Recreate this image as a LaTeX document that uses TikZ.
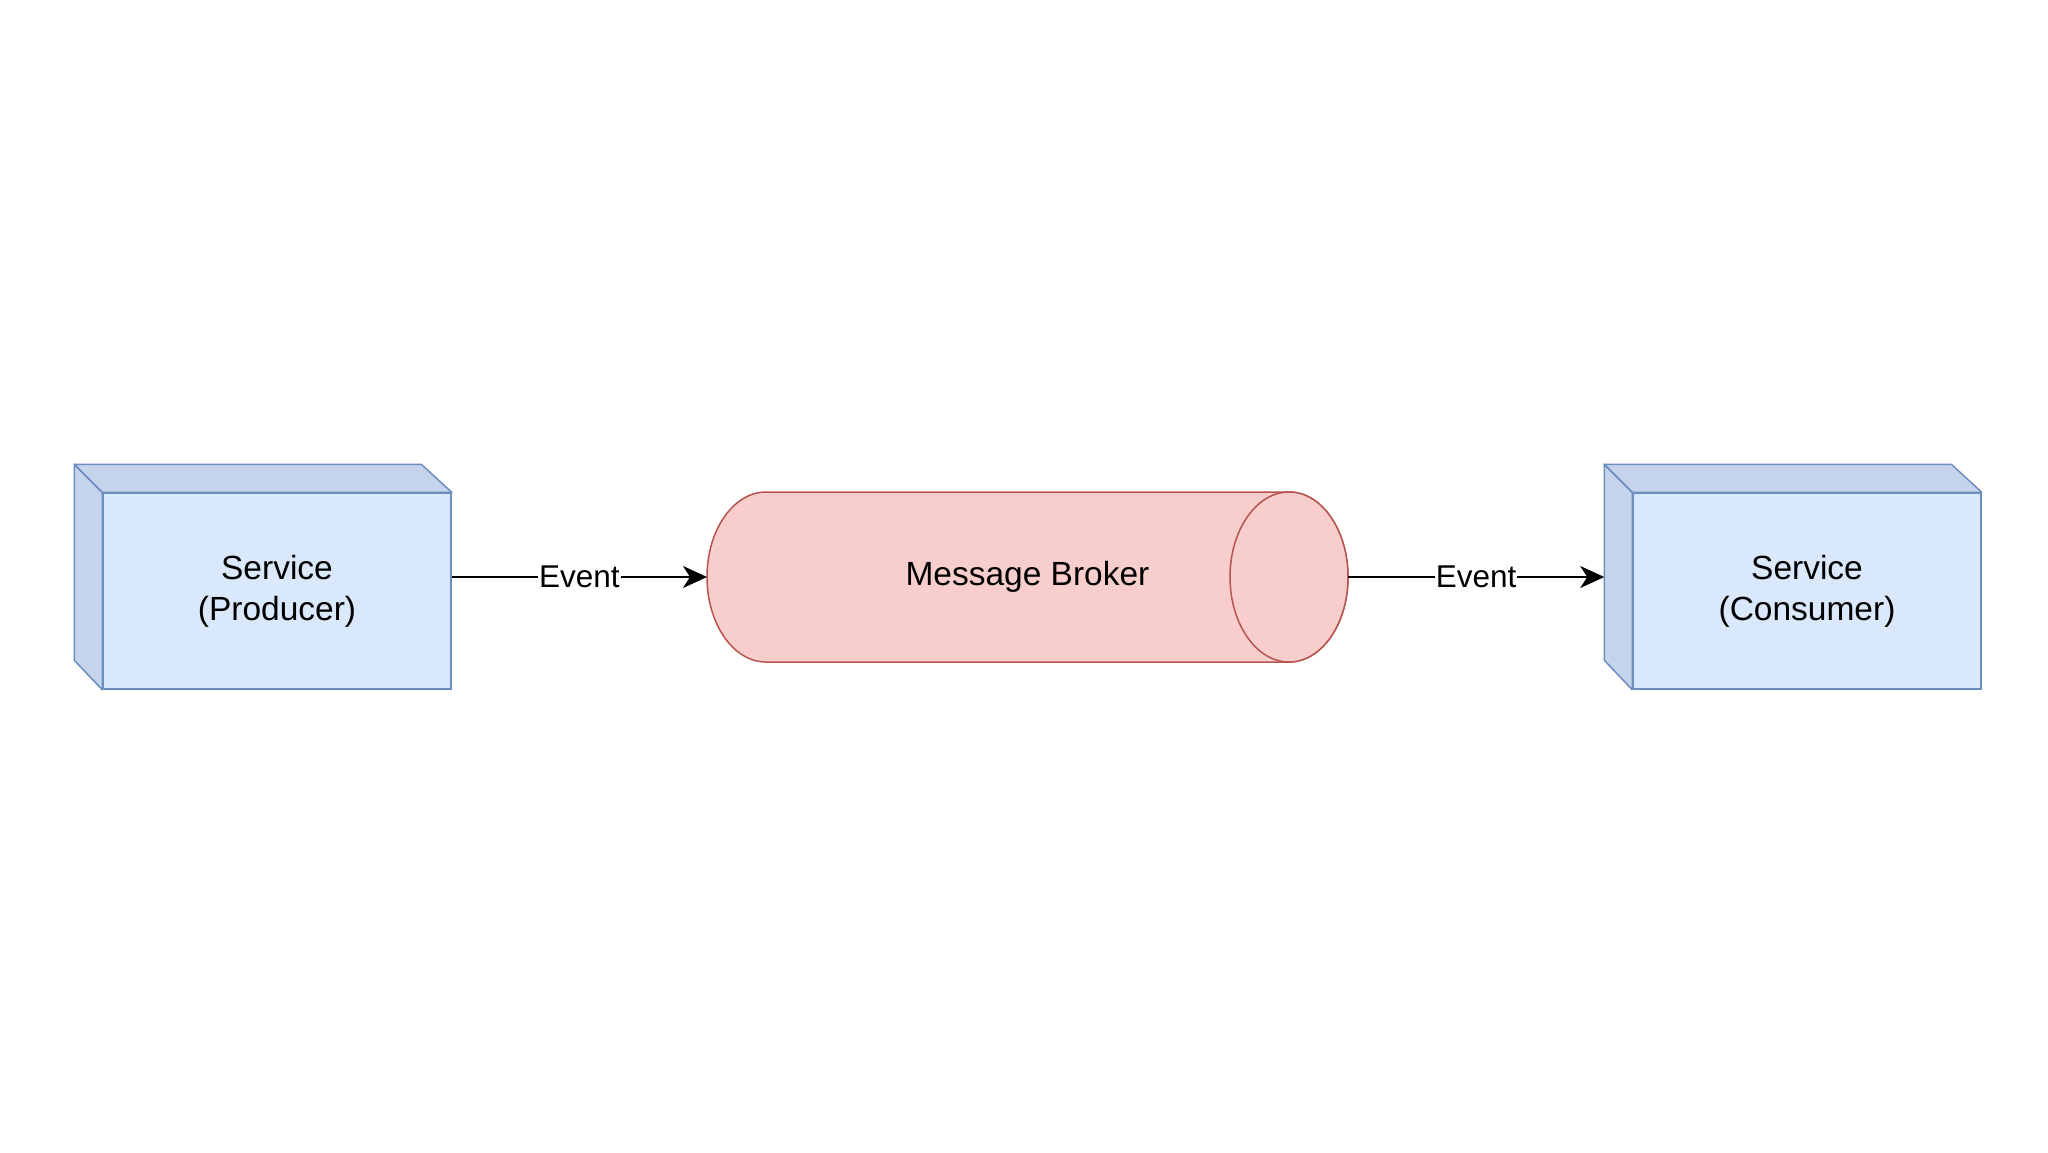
\documentclass[tikz,border=0pt]{standalone}
\usepackage{fontspec}
\setmainfont{Liberation Sans}
\usetikzlibrary{shapes.geometric, arrows.meta}
\definecolor{svcfill}{HTML}{DAE8FC}
\definecolor{svcside}{HTML}{C5D4EC}
\definecolor{svcline}{HTML}{6C8EBF}
\definecolor{brkfill}{HTML}{F8CECC}
\definecolor{brkline}{HTML}{B85450}

\begin{document}
\begin{tikzpicture}[x=1pt, y=-1pt]
\tikzstyle{service} = [rectangle, minimum width=348pt, minimum height=196pt, align=center, draw=svcline, fill=svcfill, line width=1.5pt, font=\fontsize{33.5}{41}\selectfont]
\tikzstyle{broker} = [rectangle, minimum width=641pt, minimum height=170pt, outer sep=0pt, font=\fontsize{33.5}{40}\selectfont]
\tikzstyle{cyl} = [draw=brkline, fill=brkfill, line width=1.5pt]
\tikzstyle{face} = [draw=svcline, fill=svcside, line width=1.5pt, line join=round]
\tikzstyle{arrow} = [line width=2pt, -{Stealth[length=24pt, width=22pt, inset=7pt]}]
\tikzstyle{evlabel} = [fill=white, inner sep=1pt, font=\fontsize{31.5}{38}\selectfont]

\useasboundingbox[fill=white] (0,0) rectangle (2048,1152);

\node (producer) [service] at (277,591) {Service\\(Producer)};
\node (consumer) [service] at (1807,591) {Service\\(Consumer)};

% side and top of the boxes
\foreach \svc in {producer, consumer} {
  \draw [face] (\svc.north west) -- ++(-28,-28) coordinate (\svc-back) -- ++(0,196) -- (\svc.south west) -- cycle;
  \draw [face] (\svc.north west) -- (\svc-back) -- ++(347,0) -- (\svc.north east) -- cycle;
}

% the broker as a lying cylinder
\path (1027.5,577) node (broker) [broker] {};
\draw [cyl] ([xshift=59]broker.north west) -- ([xshift=-59]broker.north east)
  arc [start angle=-90, end angle=90, x radius=59, y radius=85]
  -- ([xshift=59]broker.south west)
  arc [start angle=90, end angle=270, x radius=59, y radius=85] -- cycle;
\draw [cyl] ([xshift=-59]broker.east) ellipse [x radius=59, y radius=85];
\node at (broker.center) [broker] {Message Broker};

\draw [arrow] (producer.east |- broker.west) -- node[evlabel] {Event} (broker.west);
\draw [arrow] (broker.east) -- node[evlabel] {Event} (consumer-back |- broker.east);
\end{tikzpicture}
\end{document}
